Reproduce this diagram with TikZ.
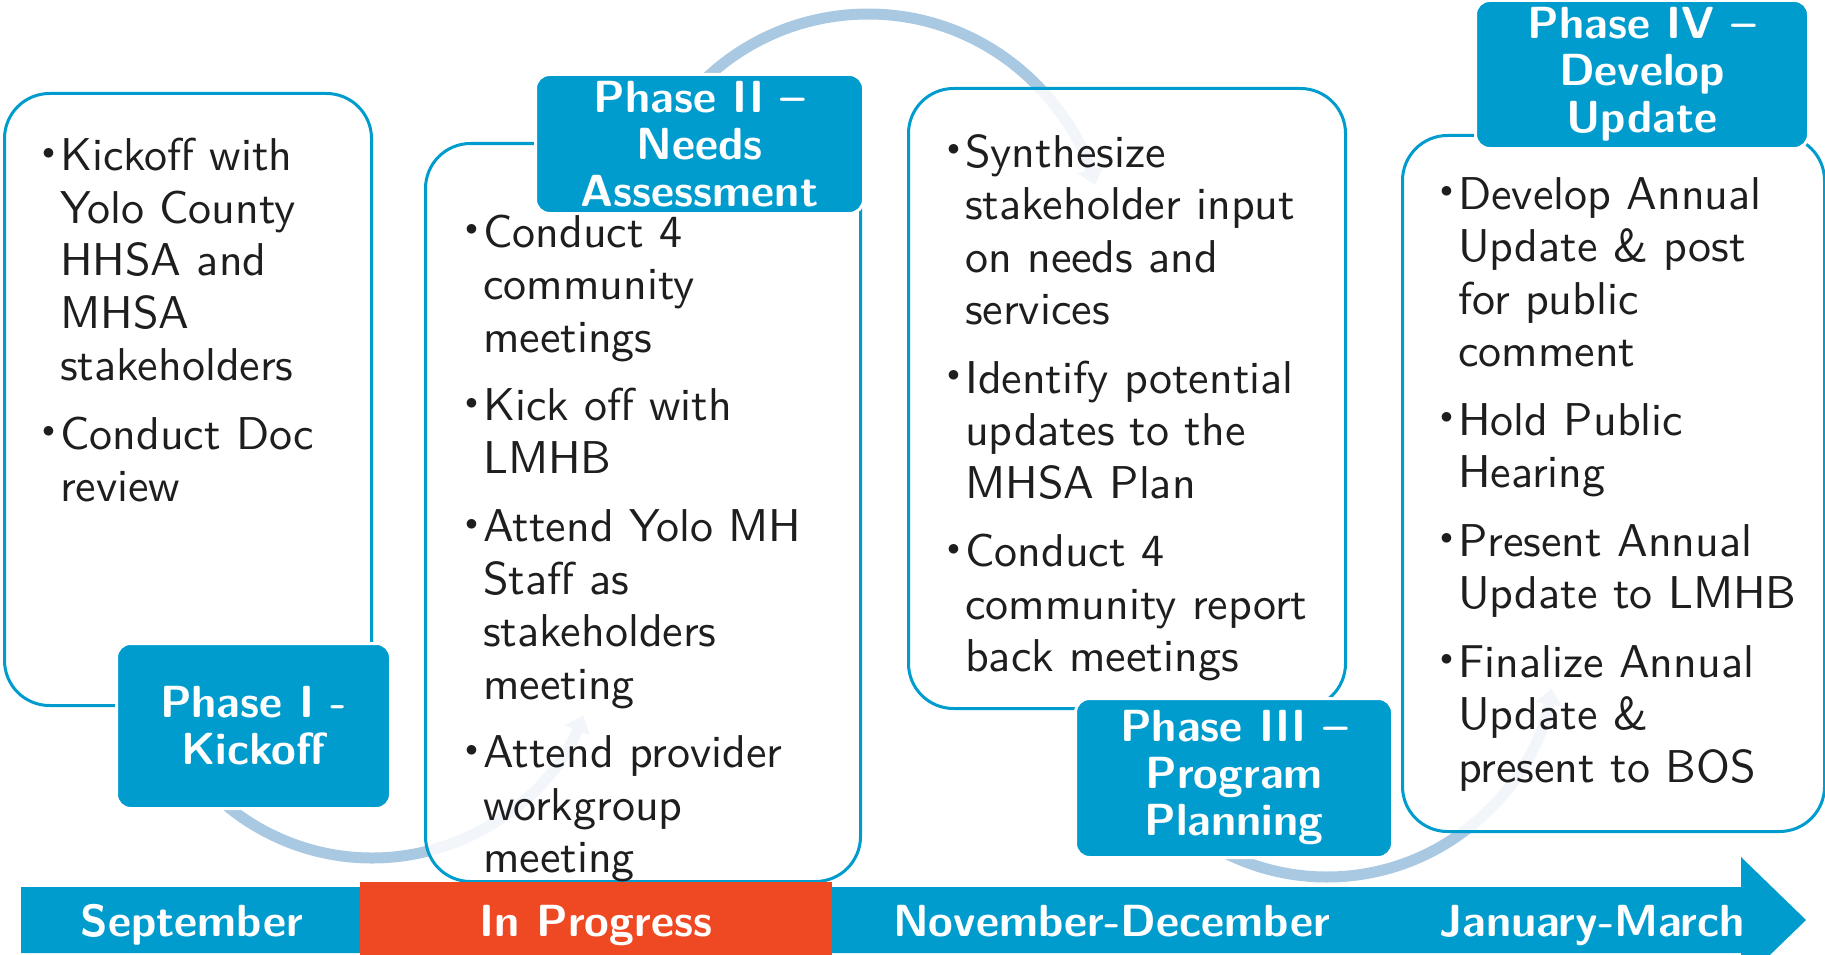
\documentclass[tikz,border=0pt]{standalone}
\usepackage{fontspec}
\setsansfont{lmsans10}[Extension=.otf,UprightFont=*-regular,BoldFont=*-bold]
\usetikzlibrary{arrows.meta,calc}
\definecolor{mainblue}{RGB}{0,156,206}
\definecolor{arcblue}{RGB}{169,201,227}
\definecolor{redbar}{RGB}{239,73,35}
\definecolor{txt}{RGB}{30,30,30}
\newcommand\bul{\leavevmode\llap{\raisebox{11.2pt}{\fontsize{26}{26}\selectfont$\bullet$}\hspace{5.5pt}}}
\newcommand\bodyfont{\sffamily\fontsize{46}{52.5}\selectfont}
\newcommand\labfont{\sffamily\bfseries\fontsize{45}{47}\selectfont}
\begin{document}
\begin{tikzpicture}[x=1pt,y=-1pt,
 bodybox/.style={draw=mainblue,line width=3pt,fill=white,fill opacity=0.85,rounded corners=45pt,inner sep=0pt,anchor=north west},
 phaselabel/.style={fill=mainblue,draw=white,line width=3pt,rounded corners=14pt,text=white,font=\labfont,align=center,inner sep=0pt},
 bodytext/.style={anchor=base west,inner sep=0pt,text=txt,font=\bodyfont},
 month/.style={anchor=base,inner sep=0pt,text=white,font=\labfont},
 flow/.style={draw=arcblue,line width=11pt,-{Triangle[width=26pt,length=16pt]}}]
\useasboundingbox (0,0) rectangle (1825,955);
\clip (0,0) rectangle (1825,955);

% flowing arcs behind boxes
\draw[flow] ($(372,630)+(135:228)$) arc[start angle=135,end angle=22,radius=228];
\draw[flow] ($(868,250)+(-140:236)$) arc[start angle=-140,end angle=-16,radius=236];
\draw[flow] ($(1327,649)+(120:228)$) arc[start angle=120,end angle=10,radius=228];

% content boxes
\node[bodybox,minimum width=367,minimum height=612] (b1) at (3,92) {};
\node[bodybox,minimum width=435,minimum height=738] (b2) at (424,142) {};
\node[bodybox,minimum width=437,minimum height=620] (b3) at (907,87) {};
\node[bodybox,minimum width=422,minimum height=696] (b4) at (1401,134) {};

% phase labels
\node[phaselabel,minimum width=274,minimum height=165] (p1) at (253.5,726) {Phase I -\\Kickoff};
\node[phaselabel,minimum width=328,minimum height=139] (p2) at (699.5,144) {Phase II --\\Needs\\Assessment};
\node[phaselabel,minimum width=317,minimum height=159] (p3) at (1234,778) {Phase III --\\Program\\Planning};
\node[phaselabel,minimum width=333,minimum height=148] (p4) at (1642,74.5) {Phase IV --\\Develop\\Update};

% texts
\node[bodytext] (t1) at (60,170.7) {\parbox[t]{300pt}{\raggedright
\bul Kickoff with\\Yolo County\\HHSA and\\MHSA\\stakeholders\\[16pt]
\bul Conduct Doc\\review}};
\node[bodytext] (t2) at (483,247) {\parbox[t]{360pt}{\raggedright
\bul Conduct 4\\community\\meetings\\[16pt]
\bul Kick off with\\LMHB\\[16pt]
\bul Attend Yolo MH\\Staff as\\stakeholders\\meeting\\[16pt]
\bul Attend provider\\workgroup\\meeting}};
\node[bodytext] (t3) at (965,167) {\parbox[t]{370pt}{\raggedright
\bul Synthesize\\stakeholder input\\on needs and\\services\\[16pt]
\bul Identify potential\\updates to the\\MHSA Plan\\[16pt]
\bul Conduct 4\\community report\\back meetings}};
\node[bodytext] (t4) at (1458,209) {\parbox[t]{360pt}{\raggedright
\bul Develop Annual\\Update \& post\\for public\\comment\\[16pt]
\bul Hold Public\\Hearing\\[16pt]
\bul Present Annual\\Update to LMHB\\[16pt]
\bul Finalize Annual\\Update \&\\present to BOS}};

% timeline arrow
\fill[mainblue] (21,887) -- (1741,887) -- (1741,857) -- (1806,920) -- (1741,983) -- (1741,953) -- (21,953) -- cycle;
\fill[redbar] (360,882) rectangle (832,960);
\node[month] (m1) at (192,936) {September};
\node[month] (m2) at (596,936) {In Progress};
\node[month] (m3) at (1111.6,936) {November-December};
\node[month] (m4) at (1592,936) {January-March};
\end{tikzpicture}
\end{document}
